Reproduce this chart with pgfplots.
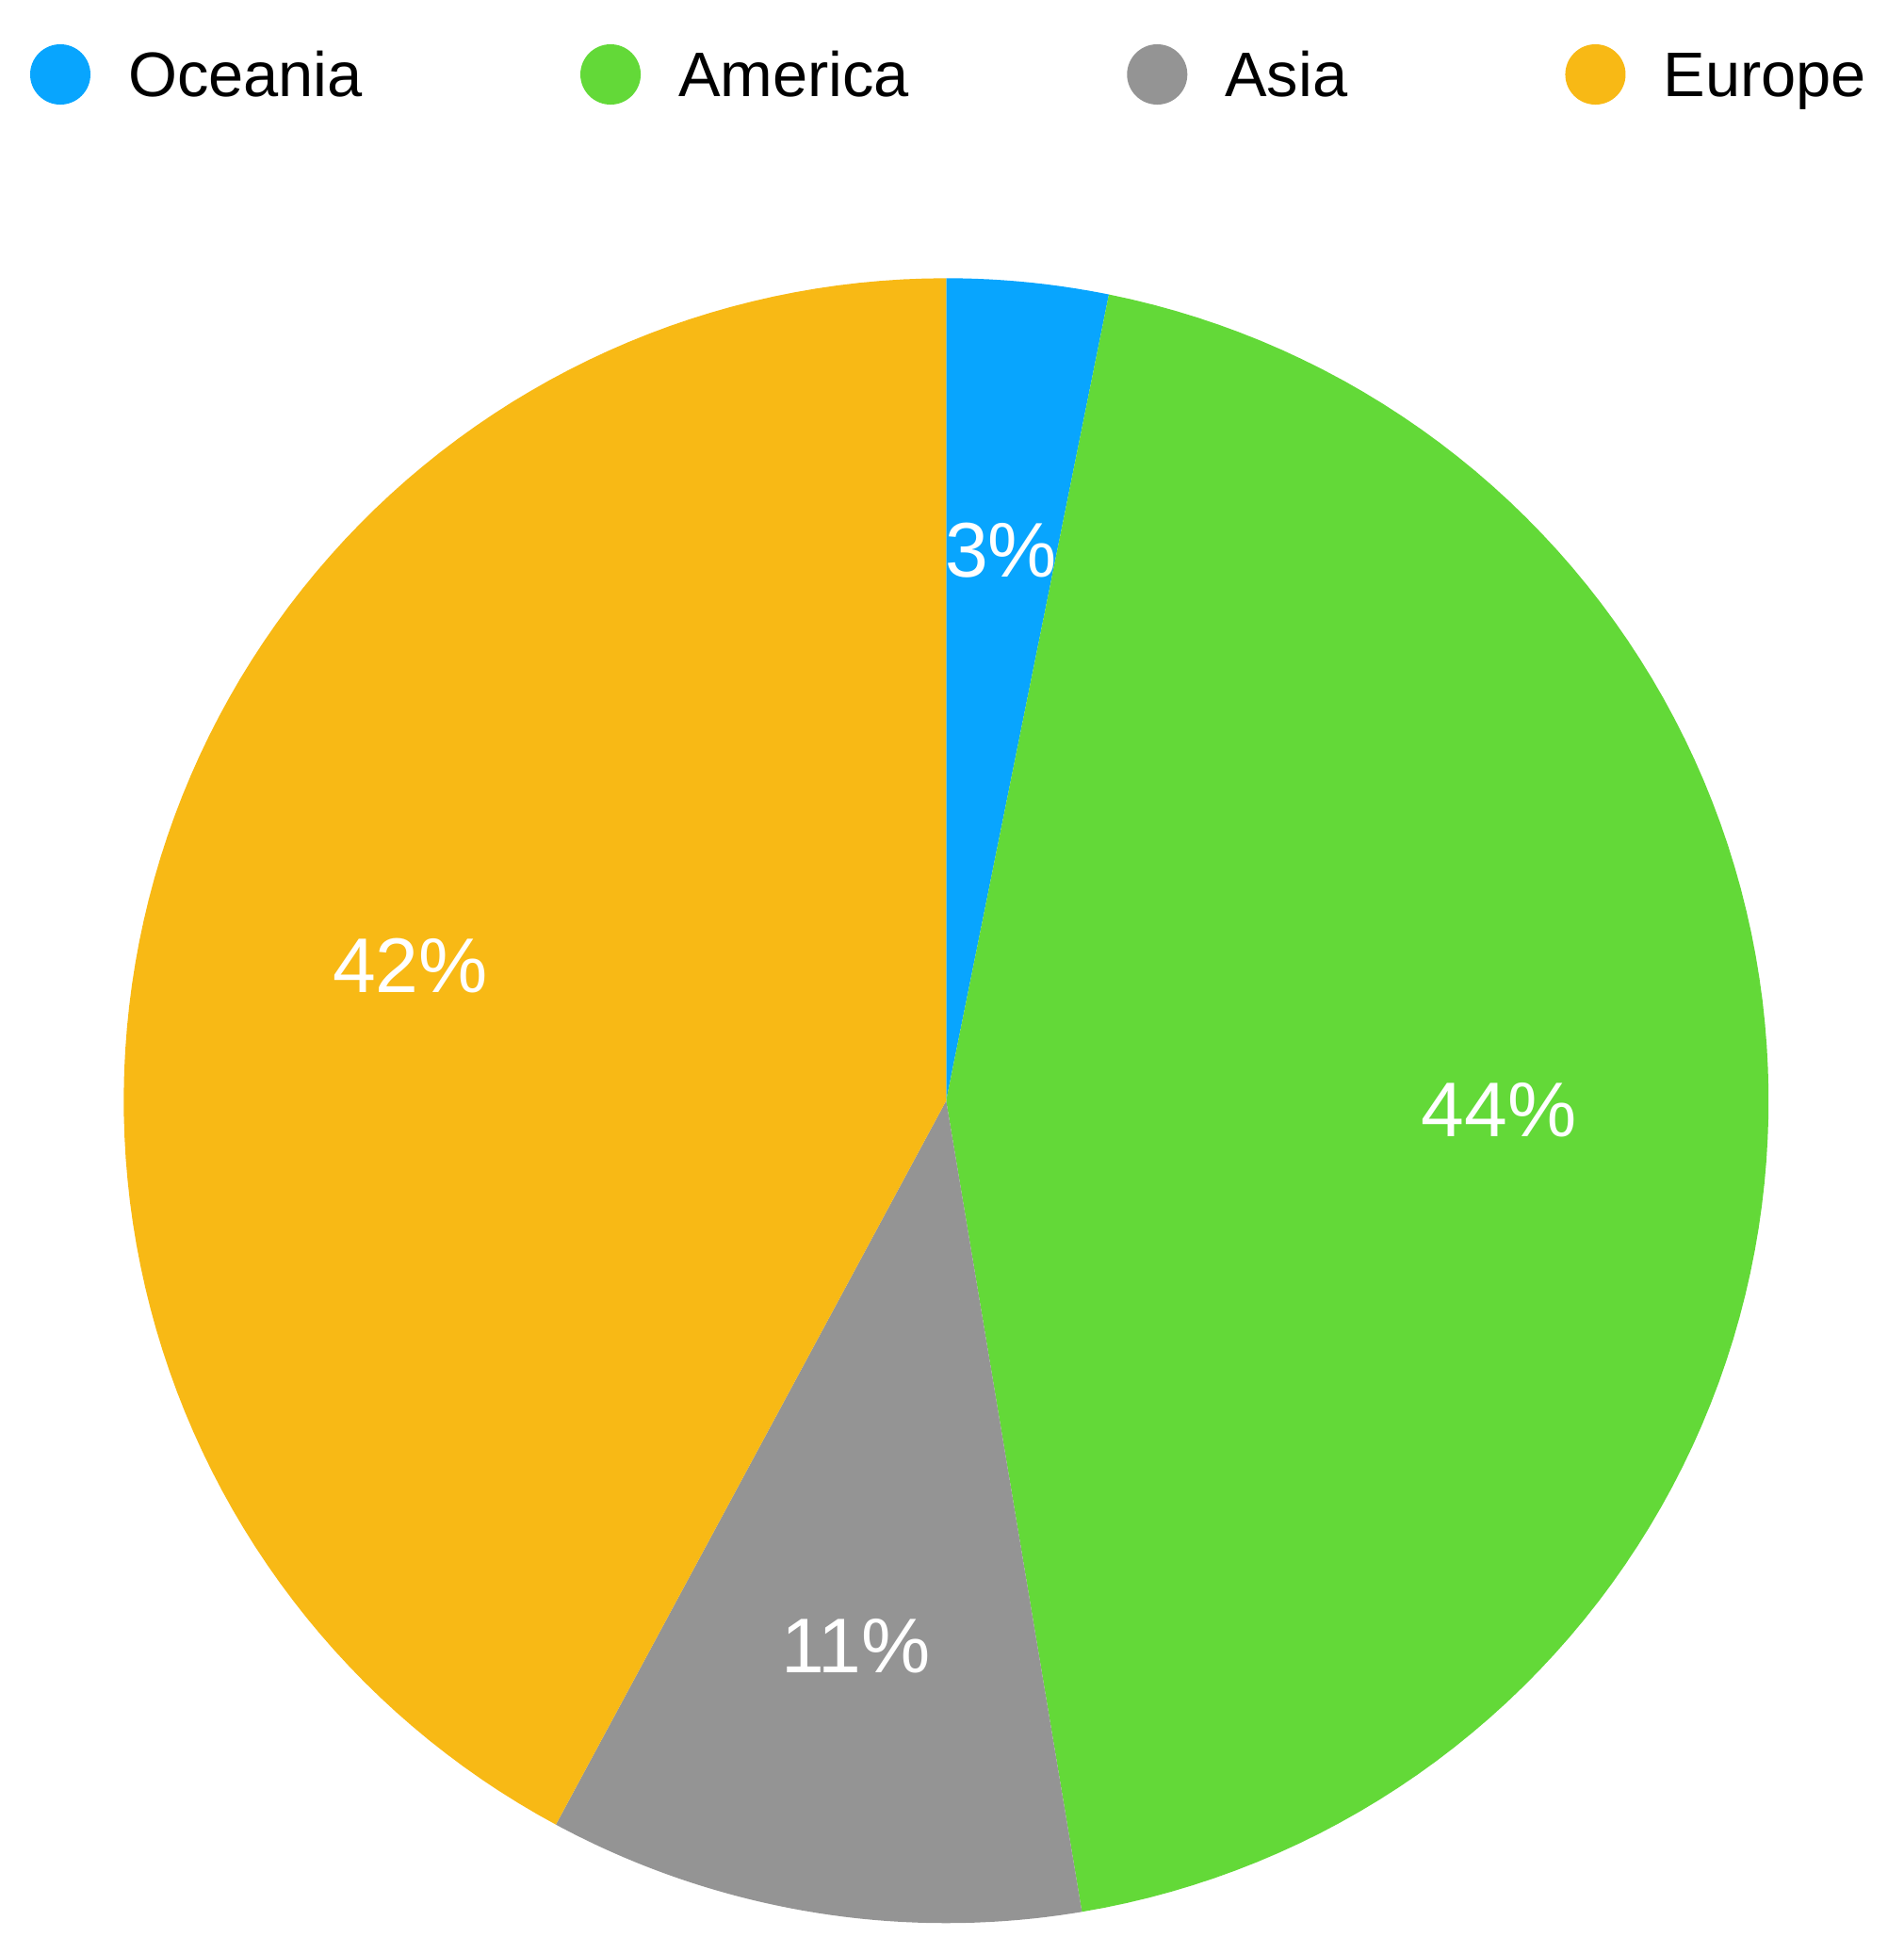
\documentclass[border=0pt]{standalone}
\usepackage{fontspec}
\setmainfont{Liberation Sans}
\usepackage{pgfplots}
\usepackage{pgfplotstable}
\pgfplotsset{compat=1.18}

\definecolor{oce}{RGB}{8,165,254}
\definecolor{ame}{RGB}{99,217,56}
\definecolor{asi}{RGB}{148,148,148}
\definecolor{eur}{RGB}{248,185,21}

\newcommand\legfont{\fontsize{19}{22}\selectfont}
\newcommand\lblfont{\fontsize{23.4}{27}\selectfont}

% share of each region, in percent
\pgfplotstableread{
region value
Oceania 3.17
America 44.19
Asia 10.51
Europe 42.13
}\piedata

\pgfplotstablegetelem{0}{value}\of\piedata \let\vA\pgfplotsretval
\pgfplotstablegetelem{1}{value}\of\piedata \let\vB\pgfplotsretval
\pgfplotstablegetelem{2}{value}\of\piedata \let\vC\pgfplotsretval
\pgfplotstablegetelem{3}{value}\of\piedata \let\vD\pgfplotsretval

% pie centre and radius (axis units)
\def\cx{1004.3}\def\cy{904.7}\def\R{873}

% slice boundaries, clockwise from the top
\pgfmathsetmacro\aA{90}
\pgfmathsetmacro\aB{\aA-3.6*\vA}
\pgfmathsetmacro\aC{\aB-3.6*\vB}
\pgfmathsetmacro\aD{\aC-3.6*\vC}
\pgfmathsetmacro\aE{\aD-3.6*\vD}

% label positions
\pgfmathsetmacro\lAx{\cx+0.672*\R*cos((\aA+\aB)/2)}\pgfmathsetmacro\lAy{\cy+0.672*\R*sin((\aA+\aB)/2)}
\pgfmathsetmacro\lBx{\cx+0.672*\R*cos((\aB+\aC)/2)}\pgfmathsetmacro\lBy{\cy+0.672*\R*sin((\aB+\aC)/2)}
\pgfmathsetmacro\lCx{\cx+0.672*\R*cos((\aC+\aD)/2)}\pgfmathsetmacro\lCy{\cy+0.672*\R*sin((\aC+\aD)/2)}
\pgfmathsetmacro\lDx{\cx+0.672*\R*cos((\aD+\aE)/2)}\pgfmathsetmacro\lDy{\cy+0.672*\R*sin((\aD+\aE)/2)}
\pgfmathtruncatemacro\pA{round(\vA)}
\pgfmathtruncatemacro\pB{round(\vB)}
\pgfmathtruncatemacro\pC{round(\vC)}
\pgfmathtruncatemacro\pD{round(\vD)}

% one sector: colour, start angle, end angle
\newcommand\slice[3]{%
  \addplot[fill=#1, draw=none, samples at={-1,0,1,...,100}]
    ({\cx+\R*(x>-0.5)*cos((#2)+x/100*((#3)-(#2)))},
     {\cy+\R*(x>-0.5)*sin((#2)+x/100*((#3)-(#2)))});
}

\begin{document}
\begin{tikzpicture}
\begin{axis}[x=0.01cm, y=0.01cm,
  xmin=0, xmax=2021, ymin=0, ymax=2073,
  hide axis, clip=false,
  legend columns=4,
  legend image code/.code={\fill[#1] (0.32cm,0.235cm) circle [radius=0.32cm];},
  legend style={draw=none, fill=none, inner sep=0pt, outer sep=0pt,
    font=\legfont, at={(0.01583,0.97733)}, anchor=north west,
    column sep=0pt, row sep=0pt,
    nodes={inner sep=0pt, outer sep=0pt},
    cells={anchor=base west},
    /tikz/every odd column/.append style={column sep=0.40cm},
    /tikz/every even column/.append style={column sep=2.31cm}}]
\path (rel axis cs:0,0) rectangle (rel axis cs:1,1);
\slice{oce}{\aA}{\aB}
\addlegendentry{Oceania}
\slice{ame}{\aB}{\aC}
\addlegendentry{America}
\slice{asi}{\aC}{\aD}
\addlegendentry{Asia}
\slice{eur}{\aD}{\aE}
\addlegendentry{Europe}
\node[white, font=\lblfont] at (axis cs:\lAx,\lAy) {\pA\%};
\node[white, font=\lblfont] at (axis cs:\lBx,\lBy) {\pB\%};
\node[white, font=\lblfont] at (axis cs:\lCx,\lCy) {\pC\%};
\node[white, font=\lblfont] at (axis cs:\lDx,\lDy) {\pD\%};
\end{axis}
\end{tikzpicture}
\end{document}
